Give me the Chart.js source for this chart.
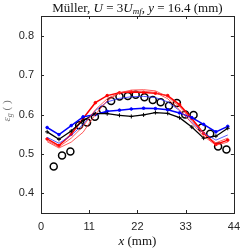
<!DOCTYPE html>
<html>
<head>
<meta charset="utf-8">
<script src="https://cdn.jsdelivr.net/npm/chart.js@4.4.1/dist/chart.umd.min.js"></script>
<style>
  body { margin: 0; background: #fff; }
  canvas { display: block; }
</style>
</head>
<body>
<canvas id="chart" width="247" height="249"></canvas>
<script>
// === DATOS ===
const xTicks = [0, 11, 22, 33, 44];
const yTicks = [0.4, 0.5, 0.6, 0.7, 0.8];

// posiciones de los perfiles simulados (mm)
const xSim = [1.4, 4.1, 6.9, 9.6, 12.4, 15.1, 17.9, 20.6, 23.4, 26.1, 28.9, 31.6, 34.4, 37.1, 39.9, 42.6];
const redThick  = [0.538, 0.521, 0.550, 0.590, 0.630, 0.648, 0.655, 0.657, 0.656, 0.654, 0.648, 0.625, 0.590, 0.552, 0.524, 0.535];
const redThinA  = [0.531, 0.515, 0.530, 0.555, 0.600, 0.635, 0.655, 0.662, 0.663, 0.660, 0.645, 0.620, 0.585, 0.552, 0.528, 0.540];
const redThinB  = [0.534, 0.518, 0.540, 0.570, 0.612, 0.640, 0.655, 0.659, 0.659, 0.656, 0.640, 0.612, 0.578, 0.545, 0.522, 0.530];
const blueThick = [0.567, 0.549, 0.572, 0.594, 0.600, 0.608, 0.611, 0.614, 0.616, 0.615, 0.612, 0.604, 0.592, 0.575, 0.556, 0.570];
const blueThin  = [0.542, 0.527, 0.547, 0.575, 0.610, 0.632, 0.641, 0.645, 0.646, 0.643, 0.632, 0.610, 0.580, 0.553, 0.535, 0.548];
const blackLine = [0.556, 0.537, 0.558, 0.585, 0.602, 0.602, 0.598, 0.595, 0.599, 0.605, 0.603, 0.592, 0.568, 0.540, 0.545, 0.565];

// medidas experimentales (circulos)
const xExp = [2.9, 4.8, 6.7, 8.7, 10.5, 12.3, 14.1, 16.0, 17.9, 19.8, 21.6, 23.6, 25.5, 27.3, 29.2, 31.0, 32.9, 34.8, 36.7, 38.6, 40.4, 42.3];
const expVals = [0.468, 0.496, 0.506, 0.573, 0.580, 0.594, 0.612, 0.634, 0.646, 0.647, 0.650, 0.644, 0.637, 0.631, 0.622, 0.629, 0.600, 0.599, 0.567, 0.551, 0.519, 0.511];

function pts(xs, ys) {
  return xs.map((x, i) => ({ x: x, y: ys[i] }));
}

function lineSet(data, color, width, radius, style) {
  return {
    type: "line",
    data: pts(xSim, data),
    borderColor: color,
    backgroundColor: color,
    borderWidth: width,
    pointRadius: radius,
    pointStyle: style || "circle",
    pointBorderWidth: 1,
    tension: 0
  };
}

// dibuja trozos de texto con fuentes distintas (cursiva, subindices)
function drawParts(ctx, parts, cx, y) {
  let total = 0;
  parts.forEach(p => { ctx.font = p[1]; total += ctx.measureText(p[0]).width; });
  let x = cx - total / 2;
  parts.forEach(p => {
    ctx.font = p[1];
    ctx.fillText(p[0], x, y + (p[2] || 0));
    x += ctx.measureText(p[0]).width;
  });
}

// === PLUGINS ===
const framePlugin = {
  id: "frame",
  afterDraw(chart) {
    const ctx = chart.ctx;
    const a = chart.chartArea;
    const xs = chart.scales.x, ys = chart.scales.y;
    ctx.save();
    ctx.strokeStyle = "#262626";
    ctx.lineWidth = 1;
    ctx.strokeRect(Math.round(a.left) + 0.5, Math.round(a.top) + 0.5,
      Math.round(a.right - a.left), Math.round(a.bottom - a.top));
    ctx.beginPath();
    xTicks.forEach(v => {
      const px = Math.round(xs.getPixelForValue(v)) + 0.5;
      ctx.moveTo(px, a.bottom); ctx.lineTo(px, a.bottom - 3);
      ctx.moveTo(px, a.top); ctx.lineTo(px, a.top + 3);
    });
    yTicks.forEach(v => {
      const py = Math.round(ys.getPixelForValue(v)) + 0.5;
      ctx.moveTo(a.left, py); ctx.lineTo(a.left + 3, py);
      ctx.moveTo(a.right, py); ctx.lineTo(a.right - 3, py);
    });
    ctx.stroke();

    const serif = "'Liberation Serif', serif";
    const mid = (a.left + a.right) / 2;
    ctx.fillStyle = "#111";
    ctx.textBaseline = "alphabetic";

    // titulo
    drawParts(ctx, [
      ["Müller, ", "13px " + serif],
      ["U", "italic 13px " + serif],
      [" = 3", "13px " + serif],
      ["U", "italic 13px " + serif],
      ["mf", "italic 9px " + serif, 2],
      [", ", "13px " + serif],
      ["y", "italic 13px " + serif],
      [" = 16.4 (mm)", "13px " + serif]
    ], mid, 12);

    // etiqueta eje x
    drawParts(ctx, [["x", "italic 13px " + serif], [" (mm)", "13px " + serif]], mid, 245);

    // etiqueta eje y
    ctx.translate(10, 111);
    ctx.rotate(-Math.PI / 2);
    ctx.fillStyle = "#777";
    drawParts(ctx, [["ε", "italic 11px " + serif], ["g", "italic 8px " + serif, 2], [" ( )", "11px " + serif]], 0, 0);
    ctx.restore();
  }
};

// === GRAFICA ===
const ctx = document.getElementById("chart").getContext("2d");
new Chart(ctx, {
  type: "line",
  data: {
    datasets: [
      lineSet(redThinA, "#ff3030", 0.8, 0),
      lineSet(redThinB, "#ff3030", 0.8, 0),
      lineSet(blueThin, "#3030ff", 0.8, 0),
      lineSet(blackLine, "#000000", 1.3, 2, "cross"),
      lineSet(blueThick, "#0000ff", 1.5, 1.3),
      lineSet(redThick, "#ff0000", 1.5, 1.3),
      {
        type: "scatter",
        data: pts(xExp, expVals),
        borderColor: "#000",
        backgroundColor: "rgba(0,0,0,0)",
        pointRadius: 3.5,
        pointBorderWidth: 1.5,
        showLine: false
      }
    ]
  },
  options: {
    responsive: false,
    animation: false,
    layout: { padding: { top: 16, right: 9, left: 0, bottom: 0 } },
    plugins: { legend: { display: false }, tooltip: { enabled: false } },
    scales: {
      x: {
        type: "linear",
        min: 0,
        max: 44,
        afterBuildTicks: s => { s.ticks = xTicks.map(v => ({ value: v })); },
        afterFit: s => { s.height = 36; },
        grid: { display: false, drawTicks: false },
        border: { display: false },
        ticks: { padding: 7, color: "#262626", font: { family: "'Liberation Sans', Arial", size: 11 } }
      },
      y: {
        min: 0.35,
        max: 0.85,
        afterBuildTicks: s => { s.ticks = yTicks.map(v => ({ value: v })); },
        afterFit: s => { s.width = 41; },
        grid: { display: false, drawTicks: false },
        border: { display: false },
        ticks: {
          padding: 7,
          color: "#262626",
          font: { family: "'Liberation Sans', Arial", size: 11 },
          callback: v => v.toFixed(1)
        }
      }
    }
  },
  plugins: [framePlugin]
});
</script>
</body>
</html>
